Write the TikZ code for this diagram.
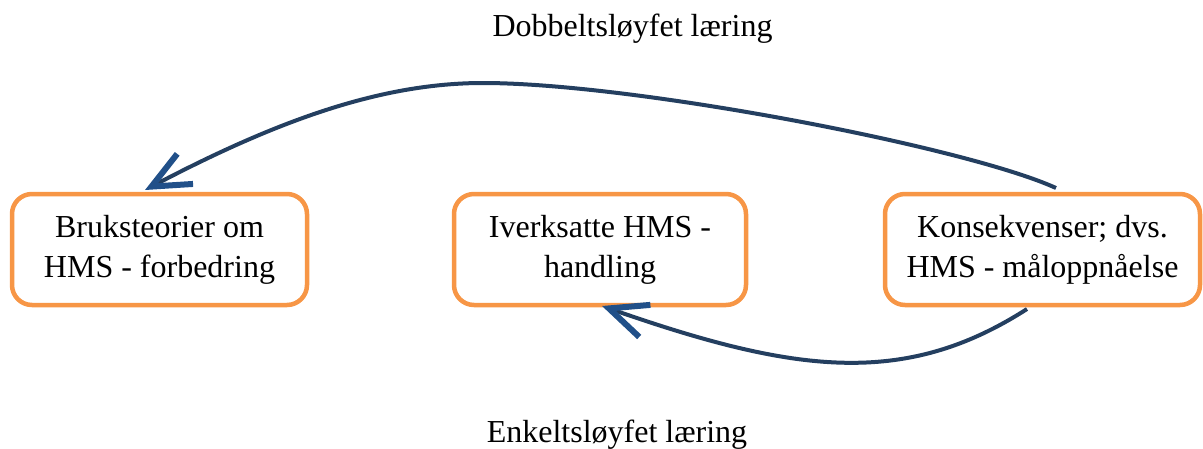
\documentclass[tikz,border=0pt]{standalone}
\usepackage{fontspec}
\setmainfont{Liberation Serif}
\usetikzlibrary{arrows.meta,calc}

\definecolor{boxorange}{HTML}{F79646}
\definecolor{loopnavy}{HTML}{243F60}
\definecolor{barbblue}{HTML}{215089}

\tikzset{
  stagebox/.style={draw=boxorange, line width=4.5pt, rounded corners=20pt,
    fill=white, outer sep=0pt, inner sep=0pt, minimum height=111pt,
    align=center, font=\fontsize{32}{40}\selectfont},
  looplabel/.style={anchor=base, inner sep=0pt, font=\fontsize{32}{40}\selectfont},
  loopline/.style={draw=loopnavy, line width=4pt,
    -{Straight Barb[length=38pt, width=34pt, line width=6pt, sharp, color=barbblue]}},
}

\begin{document}
\begin{tikzpicture}[x=1pt, y=-1pt]
  \useasboundingbox (0,0) rectangle (1203,448);

  % three stages of the learning cycle
  \node[stagebox, minimum width=295pt] (bruk) at (159.5,249.5)
    {Bruksteorier om\\HMS - forbedring};
  \node[stagebox, minimum width=292pt] (iverk) at (600,249.5)
    {Iverksatte HMS -\\handling};
  \node[stagebox, minimum width=315pt] (kons) at (1042.5,249.5)
    {Konsekvenser; dvs.\\HMS - måloppnåelse};

  % loop captions
  \node[looplabel] (dobbel) at (632.5,36) {Dobbeltsløyfet læring};
  \node[looplabel] (enkel) at (617,442.7) {Enkeltsløyfet læring};

  % end points of the two loops on the box edges
  \coordinate (dStart) at ($(kons.north west)+(171,-6)$);
  \coordinate (dTop)   at (483,83);
  \coordinate (dEnd)   at ($(bruk.north west)+(133,-4)$);
  \coordinate (eStart) at ($(kons.south west)+(142,4)$);
  \coordinate (eEnd)   at ($(iverk.south west)+(148,1)$);

  % double loop: consequences back to theories-in-use
  \draw[loopline] (dStart) .. controls (966,147) and (633,83) .. (dTop)
                           .. controls (383,83) and (280,119) .. (dEnd);

  % single loop: consequences back to action
  \draw[loopline] (eStart) .. controls (904,388) and (794,373) .. (eEnd);
\end{tikzpicture}
\end{document}
